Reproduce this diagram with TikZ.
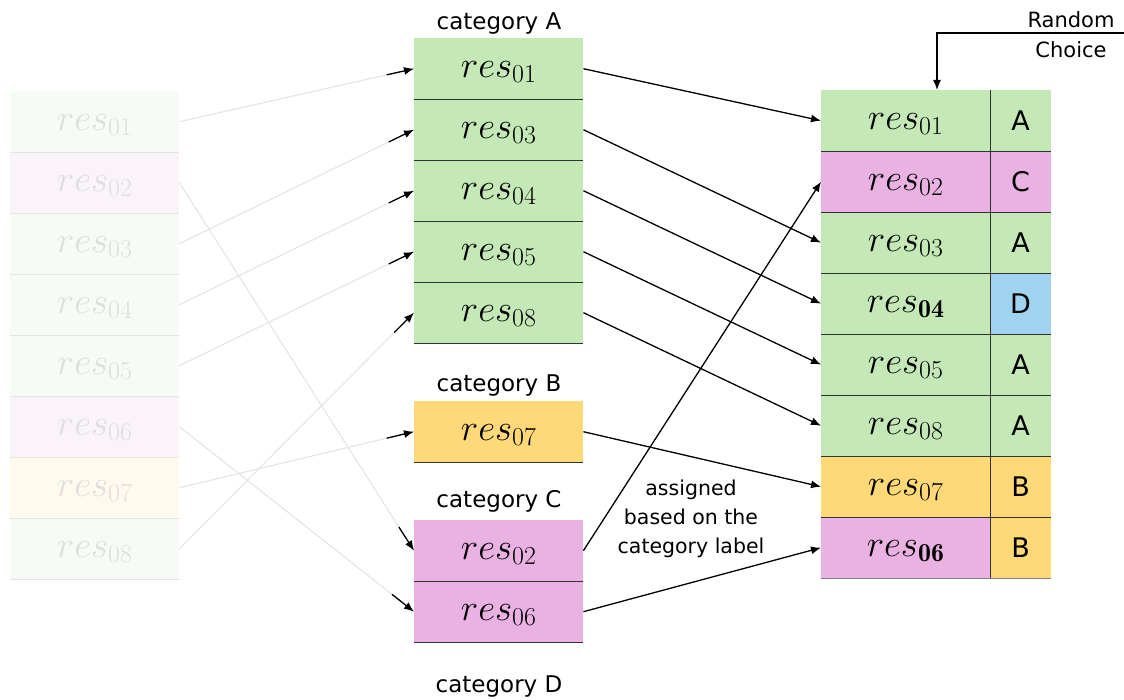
\RequirePackage{fix-cm}
\documentclass[tikz,border=0pt]{standalone}
\usepackage{fontspec}
\newfontfamily\labelfont{DejaVu Sans}
\usetikzlibrary{arrows.meta,calc}

\definecolor{catA}{RGB}{197,232,183}
\definecolor{catB}{RGB}{255,216,120}
\definecolor{catC}{RGB}{234,178,227}
\definecolor{catD}{RGB}{160,212,238}
\definecolor{fadeA}{RGB}{247,251,245}
\definecolor{fadeB}{RGB}{255,249,238}
\definecolor{fadeC}{RGB}{251,243,250}
\definecolor{fadetext}{RGB}{222,222,222}
\definecolor{fadeline}{RGB}{228,228,228}
\definecolor{sepline}{RGB}{50,50,50}

\begin{document}
\begin{tikzpicture}
[
    x=1pt, y=-1pt,
    cell/.style={anchor=north west, inner sep=0pt, minimum width=169pt, minimum height=61pt, text height=17pt, text depth=0pt, font=\fontsize{37}{40}\selectfont},
    fadecell/.style={cell, text=fadetext},
    tagcell/.style={anchor=north west, inner sep=0pt, minimum width=60pt, minimum height=61pt, font=\labelfont\fontsize{27}{30}\selectfont},
    catlabel/.style={anchor=base, font=\labelfont\fontsize{23}{26}\selectfont},
    sep/.style={draw=sepline, line width=1.6pt},
    fadesep/.style={draw=fadeline, line width=1.2pt},
    arr/.style={-{Latex[length=10pt,width=8pt]}, line width=1.3pt},
    fadearr/.style={draw=fadeline, line width=1.1pt}
]
    \useasboundingbox (0,0) rectangle (1124,700);

    % unsorted responses
    \foreach \n/\col [count=\i from 0] in {01/fadeA,02/fadeC,03/fadeA,04/fadeA,05/fadeA,06/fadeC,07/fadeB,08/fadeA}
        \node [fadecell, fill=\col] (l\n) at (10, {91+61*\i}) {$res_{\n}$};
    \foreach \n in {01,02,03,04,05,06,07,08}
        \draw [fadesep] (l\n.south west) -- (l\n.south east);

    % grouped by category
    \foreach \n [count=\i from 0] in {01,03,04,05,08}
        \node [cell, fill=catA] (m\n) at (414, {38+61*\i}) {$res_{\n}$};
    \node [cell, fill=catB] (m07) at (414, 401) {$res_{07}$};
    \node [cell, fill=catC] (m02) at (414, 520) {$res_{02}$};
    \node [cell, fill=catC] (m06) at (414, 581) {$res_{06}$};
    \foreach \n in {01,03,04,05,08,07,02,06}
        \draw [sep] (m\n.south west) -- (m\n.south east);

    \node [catlabel] (catA) at (499, 30) {category A};
    \node [catlabel] (catB) at (499, 391) {category B};
    \node [catlabel] (catC) at (499, 507) {category C};
    \node [catlabel] (catD) at (499, 692) {category D};

    % final order with labels
    \foreach \n/\sub/\col/\tg/\tcol [count=\i from 0] in {01/01/catA/A/catA, 02/02/catC/C/catC, 03/03/catA/A/catA, 04/\mathbf{04}/catA/D/catD, 05/05/catA/A/catA, 08/08/catA/A/catA, 07/07/catB/B/catB, 06/\mathbf{06}/catC/B/catB}
    {
        \node [cell, fill=\col] (r\n) at (821, {90+61*\i}) {$res_{\sub}$};
        \node [tagcell, fill=\tcol] (t\n) at (r\n.north east) {\tg};
    }
    \foreach \n in {01,02,03,04,05,08,07}
        \draw [sep] (r\n.south west) -- (t\n.south east);
    \draw [fadesep, draw=gray] (r06.south west) -- (t06.south east);
    \draw [sep] (t01.north west) -- (t06.south west);

    % connectors
    \foreach \n in {01,02,03,04,05,06,07,08}
    {
        \draw [fadearr] (l\n.east) -- (m\n.west);
        \draw [arr] ($(m\n.west)!28pt!(l\n.east)$) -- (m\n.west);
        \draw [arr] (m\n.east) -- (r\n.west);
    }

    \node [font=\labelfont\fontsize{20.5}{29}\selectfont, align=center] (note) at (691, 519) {assigned\\based on the\\category label};

    \node [font=\labelfont\fontsize{21}{30}\selectfont, align=center] (rc) at (1071, 34.5) {Random\\Choice};
    \coordinate (rcin) at (1124, 33);
    \draw [arr] (rcin) -| ([xshift=116pt]r01.north west);
\end{tikzpicture}
\end{document}
